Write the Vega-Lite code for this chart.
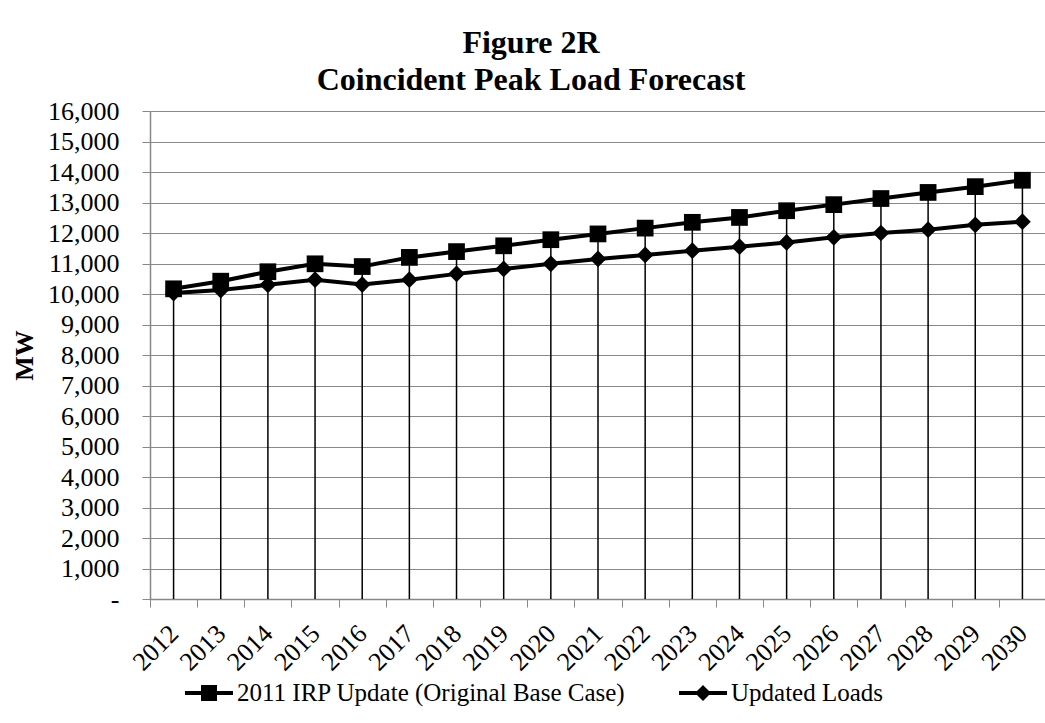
{
  "$schema": "https://vega.github.io/schema/vega-lite/v6.json",
  "autosize": "none",
  "width": 896,
  "height": 488,
  "padding": {"left": 150, "top": 111, "right": 0, "bottom": 124},
  "background": "white",
  "title": {
    "text": ["Figure 2R", "Coincident Peak Load Forecast"],
    "font": "Liberation Serif",
    "fontSize": 32,
    "fontWeight": "bold",
    "color": "black",
    "lineHeight": 37,
    "anchor": "middle",
    "dx": -67,
    "offset": 1
  },
  "config": {
    "view": {"stroke": null},
    "font": "Liberation Serif",
    "axisY": {
      "labelOverlap": false,
      "labelBound": false
    }
  },
  "resolve": {"scale": {"shape": "independent"}},
  "data": {
    "values": [
      {"year": "2012", "series": "2011 IRP Update (Original Base Case)", "mw": 10170},
      {"year": "2013", "series": "2011 IRP Update (Original Base Case)", "mw": 10420},
      {"year": "2014", "series": "2011 IRP Update (Original Base Case)", "mw": 10730},
      {"year": "2015", "series": "2011 IRP Update (Original Base Case)", "mw": 10990},
      {"year": "2016", "series": "2011 IRP Update (Original Base Case)", "mw": 10900},
      {"year": "2017", "series": "2011 IRP Update (Original Base Case)", "mw": 11200},
      {"year": "2018", "series": "2011 IRP Update (Original Base Case)", "mw": 11390},
      {"year": "2019", "series": "2011 IRP Update (Original Base Case)", "mw": 11580},
      {"year": "2020", "series": "2011 IRP Update (Original Base Case)", "mw": 11780},
      {"year": "2021", "series": "2011 IRP Update (Original Base Case)", "mw": 11970},
      {"year": "2022", "series": "2011 IRP Update (Original Base Case)", "mw": 12160},
      {"year": "2023", "series": "2011 IRP Update (Original Base Case)", "mw": 12350},
      {"year": "2024", "series": "2011 IRP Update (Original Base Case)", "mw": 12510},
      {"year": "2025", "series": "2011 IRP Update (Original Base Case)", "mw": 12730},
      {"year": "2026", "series": "2011 IRP Update (Original Base Case)", "mw": 12930},
      {"year": "2027", "series": "2011 IRP Update (Original Base Case)", "mw": 13130},
      {"year": "2028", "series": "2011 IRP Update (Original Base Case)", "mw": 13330},
      {"year": "2029", "series": "2011 IRP Update (Original Base Case)", "mw": 13520},
      {"year": "2030", "series": "2011 IRP Update (Original Base Case)", "mw": 13730},
      {"year": "2012", "series": "Updated Loads", "mw": 10030},
      {"year": "2013", "series": "Updated Loads", "mw": 10130},
      {"year": "2014", "series": "Updated Loads", "mw": 10300},
      {"year": "2015", "series": "Updated Loads", "mw": 10470},
      {"year": "2016", "series": "Updated Loads", "mw": 10310},
      {"year": "2017", "series": "Updated Loads", "mw": 10470},
      {"year": "2018", "series": "Updated Loads", "mw": 10660},
      {"year": "2019", "series": "Updated Loads", "mw": 10820},
      {"year": "2020", "series": "Updated Loads", "mw": 10990},
      {"year": "2021", "series": "Updated Loads", "mw": 11150},
      {"year": "2022", "series": "Updated Loads", "mw": 11280},
      {"year": "2023", "series": "Updated Loads", "mw": 11420},
      {"year": "2024", "series": "Updated Loads", "mw": 11550},
      {"year": "2025", "series": "Updated Loads", "mw": 11690},
      {"year": "2026", "series": "Updated Loads", "mw": 11860},
      {"year": "2027", "series": "Updated Loads", "mw": 12000},
      {"year": "2028", "series": "Updated Loads", "mw": 12110},
      {"year": "2029", "series": "Updated Loads", "mw": 12270},
      {"year": "2030", "series": "Updated Loads", "mw": 12370}
    ]
  },
  "encoding": {
    "x": {
      "field": "year",
      "type": "ordinal",
      "scale": {"type": "band", "paddingInner": 0, "paddingOuter": 0},
      "axis": {
        "title": null,
        "labelAngle": -45,
        "labelFont": "Liberation Serif",
        "labelFontSize": 26,
        "labelColor": "black",
        "labelPadding": 13,
        "labelOffset": -9,
        "labelOverlap": false,
        "tickBand": "extent",
        "tickSize": 8,
        "tickColor": "#888888",
        "tickWidth": 1,
        "domainColor": "#888888",
        "domainWidth": 1.5,
        "grid": false
      }
    },
    "y": {
      "field": "mw",
      "type": "quantitative",
      "scale": {"domain": [0, 16000], "nice": false},
      "axis": {
        "title": "MW",
        "titleFont": "Liberation Serif",
        "titleFontSize": 26,
        "titleFontWeight": "bold",
        "titleColor": "black",
        "titlePadding": 10,
        "values": [0, 1000, 2000, 3000, 4000, 5000, 6000, 7000, 8000, 9000, 10000, 11000, 12000, 13000, 14000, 15000, 16000],
        "labelExpr": "datum.value === 0 ? '-\u2007\u2007' : format(datum.value, ',')",
        "labelOverlap": false,
        "labelBound": false,
        "labelFont": "Liberation Serif",
        "labelFontSize": 26,
        "labelColor": "black",
        "labelPadding": 23,
        "tickSize": 8,
        "tickColor": "#888888",
        "domainColor": "#888888",
        "domainWidth": 1.5,
        "grid": true,
        "gridColor": "#888888",
        "gridWidth": 1
      }
    }
  },
  "layer": [
    {
      "mark": {"type": "line", "color": "black", "strokeWidth": 4},
      "encoding": {
        "detail": {"field": "series"}
      }
    },
    {
      "mark": {"type": "point", "filled": true, "color": "black", "size": 280, "opacity": 1},
      "encoding": {
        "shape": {
          "field": "series",
          "type": "nominal",
          "scale": {
            "domain": ["2011 IRP Update (Original Base Case)", "Updated Loads"],
            "range": ["square", "diamond"]
          },
          "legend": null
        }
      }
    },
    {
      "mark": {"type": "point", "filled": true, "color": "black", "size": 10, "opacity": 0},
      "encoding": {
        "shape": {
          "field": "series",
          "type": "nominal",
          "scale": {
            "domain": ["2011 IRP Update (Original Base Case)", "Updated Loads"],
            "range": [
              "M-1,-0.083H-0.333V-0.333H0.333V-0.083H1V0.083H0.333V0.333H-0.333V0.083H-1Z",
              "M-1,-0.083H-0.25L0,-0.333L0.25,-0.083H1V0.083H0.25L0,0.333L-0.25,0.083H-1Z"
            ]
          },
          "legend": {
            "title": null,
            "orient": "none",
            "legendX": 35,
            "legendY": 558,
            "direction": "horizontal",
            "symbolSize": 2304,
            "symbolOpacity": 1,
            "symbolFillColor": "black",
            "symbolStrokeWidth": 0,
            "labelFont": "Liberation Serif",
            "labelFontSize": 25,
            "labelColor": "black",
            "labelOffset": 4,
            "labelLimit": 0,
            "columnPadding": 53
          }
        }
      }
    },
    {
      "transform": [
        {"filter": "datum.series === '2011 IRP Update (Original Base Case)'"}
      ],
      "mark": {"type": "rule", "color": "black", "strokeWidth": 1.5},
      "encoding": {
        "y2": {"datum": 0}
      }
    }
  ]
}
